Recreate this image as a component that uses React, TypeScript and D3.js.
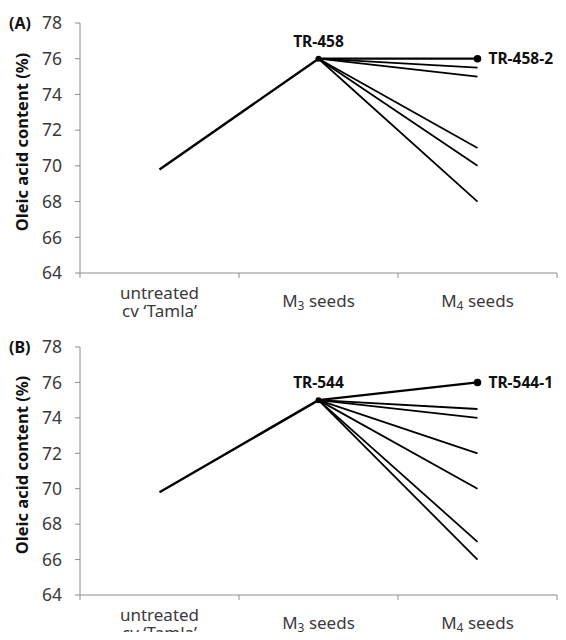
import React from 'react'
import * as d3 from 'd3'

const stages = ['untreated', 'M3', 'M4']
const yTicks = [64, 66, 68, 70, 72, 74, 76, 78]

const untreatedA = 69.8
const m3A = 76
const m4A = [76, 75.5, 75, 71, 70, 68]

const untreatedB = 69.8
const m3B = 75
const m4B = [76, 74.5, 74, 72, 70, 67, 66]

const W = 566
const H = 640
const font = '"Noto Sans", "Open Sans", sans-serif'
const textColor = '#3a3a3a'
const axisColor = '#8c8c8c'

const x = d3.scaleBand().domain(stages).range([80, 557]).padding(0)
const cx = (s: string) => (x(s) as number) + x.bandwidth() / 2

type PanelProps = {
  label: string
  top: number
  bottom: number
  untreated: number
  m3: number
  m4: number[]
  parent: string
  child: string
}

function Panel({ label, top, bottom, untreated, m3, m4, parent, child }: PanelProps) {
  const y = d3.scaleLinear().domain([64, 78]).range([bottom, top])
  const line = d3
    .line<[string, number]>()
    .x(d => cx(d[0]))
    .y(d => y(d[1]))
  const best = d3.max(m4) as number
  const base = y(64)
  return (
    <g>
      {/* axes */}
      <line x1={80} x2={80} y1={y(78)} y2={base} stroke={axisColor} strokeWidth={1} />
      <line x1={80} x2={557} y1={base} y2={base} stroke={axisColor} strokeWidth={1} />
      {yTicks.map(t => (
        <g key={t}>
          <line x1={75} x2={80} y1={y(t)} y2={y(t)} stroke={axisColor} />
          <text
            x={62}
            y={y(t)}
            dy="0.36em"
            textAnchor="end"
            fontSize={17.5}
            fill={textColor}
            fontFamily={font}
          >
            {t}
          </text>
        </g>
      ))}
      {[80, ...stages.map(s => (x(s) as number) + x.bandwidth())].map((v, i) => (
        <line key={i} x1={v} x2={v} y1={base} y2={base + 5} stroke={axisColor} />
      ))}
      {/* category labels */}
      <text x={cx('untreated')} y={base + 26} textAnchor="middle" fontSize={17} fill={textColor} fontFamily={font}>
        untreated
      </text>
      <text x={cx('untreated')} y={base + 44} textAnchor="middle" fontSize={17} fill={textColor} fontFamily={font}>
        cv ‘Tamla’
      </text>
      <text x={cx('M3')} y={base + 34} textAnchor="middle" fontSize={17} fill={textColor} fontFamily={font}>
        M<tspan fontSize={12} dy={3}>3</tspan>
        <tspan dy={-3}> seeds</tspan>
      </text>
      <text x={cx('M4')} y={base + 34} textAnchor="middle" fontSize={17} fill={textColor} fontFamily={font}>
        M<tspan fontSize={12} dy={3}>4</tspan>
        <tspan dy={-3}> seeds</tspan>
      </text>
      {/* y title */}
      <text
        transform={`translate(28,${(top + bottom) / 2 - 6}) rotate(-90)`}
        textAnchor="middle"
        fontSize={16.5}
        fontWeight="bold"
        fill="#111"
        fontFamily={font}
      >
        Oleic acid content (%)
      </text>
      <text x={9} y={top} dy="0.36em" fontSize={16} fontWeight="bold" fill="#111" fontFamily={font}>
        {label}
      </text>
      {/* lines */}
      <path
        d={line([['untreated', untreated], ['M3', m3]]) as string}
        fill="none"
        stroke="#000"
        strokeWidth={2.4}
      />
      {m4.map((v, i) => (
        <path
          key={i}
          d={line([['M3', m3], ['M4', v]]) as string}
          fill="none"
          stroke="#000"
          strokeWidth={v === best ? 2.2 : 1.8}
        />
      ))}
      <circle cx={cx('M3')} cy={y(m3)} r={3} fill="#000" />
      <circle cx={cx('M4')} cy={y(best)} r={3.8} fill="#000" />
      <text
        x={cx('M3')}
        y={y(m3) - 12}
        textAnchor="middle"
        fontSize={15.5}
        fontWeight="bold"
        fill="#111"
        fontFamily={font}
      >
        {parent}
      </text>
      <text
        x={cx('M4') + 11}
        y={y(best)}
        dy="0.36em"
        fontSize={15.5}
        fontWeight="bold"
        fill="#111"
        fontFamily={font}
      >
        {child}
      </text>
    </g>
  )
}

export default function App() {
  return (
    <svg width={W} height={H} style={{ display: 'block', margin: -8, background: '#fff' }}>
      <rect width={W} height={H} fill="#fff" />
      <Panel
        label="(A)"
        top={23}
        bottom={273}
        untreated={untreatedA}
        m3={m3A}
        m4={m4A}
        parent="TR-458"
        child="TR-458-2"
      />
      <Panel
        label="(B)"
        top={347}
        bottom={595}
        untreated={untreatedB}
        m3={m3B}
        m4={m4B}
        parent="TR-544"
        child="TR-544-1"
      />
    </svg>
  )
}
